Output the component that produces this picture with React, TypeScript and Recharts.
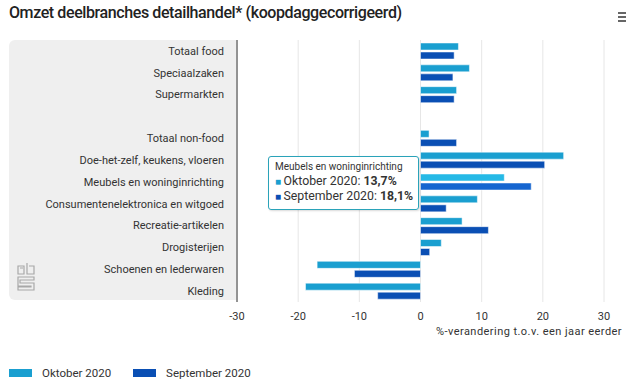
import { BarChart, Bar, XAxis, YAxis, CartesianGrid, Tooltip, Cell } from 'recharts';

const categories = [
  'Totaal food',
  'Speciaalzaken',
  'Supermarkten',
  '',
  'Totaal non-food',
  'Doe-het-zelf, keukens, vloeren',
  'Meubels en woninginrichting',
  'Consumentenelektronica en witgoed',
  'Recreatie-artikelen',
  'Drogisterijen',
  'Schoenen en lederwaren',
  'Kleding',
];
const oktober = [6.2, 8.0, 5.9, null, 1.4, 23.4, 13.7, 9.3, 6.8, 3.4, -16.9, -18.8];
const september = [5.5, 5.3, 5.5, null, 5.9, 20.3, 18.1, 4.2, 11.1, 1.5, -10.8, -7.0];
const xTicks = [-30, -20, -10, 0, 10, 20, 30];

const data = categories.map((name, i) => ({ name, okt: oktober[i], sep: september[i] }));

const OKT = '#1a9fd0';
const SEP = '#0a4fb4';
const OKT_HOVER = '#25b9e6';
const SEP_HOVER = '#1565d0';
const HOVER = 6;
const FONT = 'Roboto, "Open Sans", sans-serif';

const fmt = (v: number) => v.toFixed(1).replace('.', ',');

function TipBox({ payload, label }: any) {
  if (!payload || !payload.length) return null;
  return (
    <div style={{ background: 'rgba(255,255,255,0.95)', border: '1px solid #2aa3b9', borderRadius: 3, padding: '4px 5px 5px 6px', fontFamily: FONT, color: '#333', boxShadow: '1px 1px 2px rgba(0,0,0,0.15)' }}>
      <div style={{ fontSize: 10, marginBottom: 2 }}>{label}</div>
      {payload.map((p: any) => (
        <div key={p.dataKey} style={{ fontSize: 12.3, lineHeight: '15px', whiteSpace: 'nowrap' }}>
          <span style={{ color: p.dataKey === 'okt' ? OKT : SEP, fontSize: 10 }}>■ </span>
          {p.name}: <b>{fmt(p.value)}%</b>
        </div>
      ))}
    </div>
  );
}

export default function App() {
  return (
    <div style={{ position: 'absolute', left: 0, top: 0, width: 626, height: 391, background: '#fff', fontFamily: FONT, overflow: 'hidden' }}>
      <div style={{ position: 'absolute', left: 9, top: 3, fontSize: 16, fontWeight: 500, color: '#222', letterSpacing: -0.4 }}>
        Omzet deelbranches detailhandel* (koopdaggecorrigeerd)
      </div>
      <div style={{ position: 'absolute', left: 618, top: 12 }}>
        {[0, 4, 8].map((t) => (
          <div key={t} style={{ position: 'absolute', top: t, width: 10, height: 2, background: '#666' }} />
        ))}
      </div>
      {/* grey panel behind the category labels */}
      <div style={{ position: 'absolute', left: 9, top: 40, width: 227, height: 260, background: '#efefef', borderRadius: '6px 0 0 6px' }} />
      {/* cbs logo */}
      <svg style={{ position: 'absolute', left: 17, top: 262 }} width="18" height="30" viewBox="0 0 18 30">
        <g fill="none" stroke="#a8a8a8" strokeWidth="1.2">
          <path d="M1 4 h6 v8 h-6 z M3 6 h3" />
          <path d="M10 1 v11 h7 v-8 h-5" />
          <path d="M1 15 h16 v3 h-14 v3 h14 v7 h-16 v-3 h13 v-1 h-13 z" />
        </g>
      </svg>
      <div style={{ position: 'absolute', left: 0, top: 0 }}>
        <BarChart
          width={626}
          height={391}
          data={data}
          layout="vertical"
          margin={{ top: 40, right: 22, left: 0, bottom: 59 }}
          barSize={7}
          barGap={2}
          barCategoryGap={3}
        >
          <CartesianGrid horizontal={false} stroke="#e6e6e6" />
          <XAxis
            type="number"
            domain={[-30, 30]}
            ticks={xTicks}
            axisLine={false}
            tickLine={false}
            tick={{ fill: '#333', fontSize: 11, fontFamily: FONT }}
            height={30}
            tickMargin={4}
          />
          <YAxis
            type="category"
            dataKey="name"
            width={237}
            interval={0}
            axisLine={{ stroke: '#333' }}
            tickLine={false}
            tickSize={0}
            tickMargin={13}
            tick={{ fill: '#333', fontSize: 11, fontFamily: FONT }}
          />
          <Tooltip
            active={true}
            defaultIndex={HOVER}
            cursor={false}
            position={{ x: 268, y: 156 }}
            content={<TipBox />}
            isAnimationActive={false}
          />
          <Bar dataKey="okt" name="Oktober 2020" fill={OKT} stroke="#fff" strokeWidth={0.5} isAnimationActive={false}>
            {data.map((d, i) => (
              <Cell key={d.name + i} fill={i === HOVER ? OKT_HOVER : OKT} />
            ))}
          </Bar>
          <Bar dataKey="sep" name="September 2020" fill={SEP} stroke="#fff" strokeWidth={0.5} isAnimationActive={false}>
            {data.map((d, i) => (
              <Cell key={d.name + i} fill={i === HOVER ? SEP_HOVER : SEP} />
            ))}
          </Bar>
        </BarChart>
      </div>
      <div style={{ position: 'absolute', right: 4, top: 325, fontSize: 11, color: '#333', letterSpacing: 0.45 }}>
        %-verandering t.o.v. een jaar eerder
      </div>
      <div style={{ position: 'absolute', left: 9, top: 366, display: 'flex', alignItems: 'center', fontSize: 11.5, color: '#333' }}>
        <div style={{ width: 23, height: 8, background: OKT, marginRight: 10 }} />
        <span style={{ marginRight: 22 }}>Oktober 2020</span>
        <div style={{ width: 23, height: 8, background: SEP, marginRight: 10 }} />
        <span>September 2020</span>
      </div>
    </div>
  );
}
